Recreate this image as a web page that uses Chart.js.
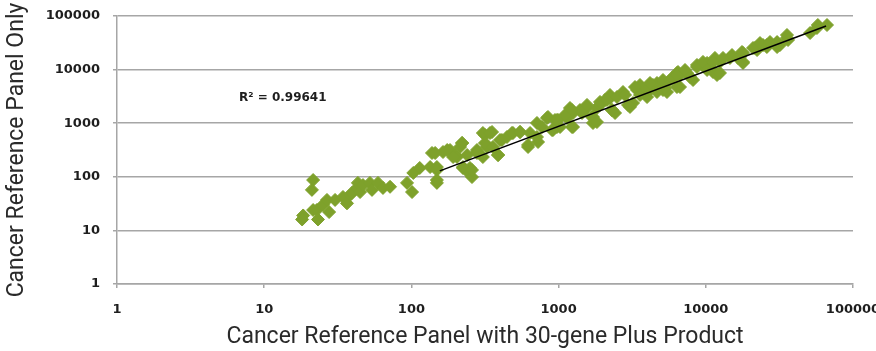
<!DOCTYPE html>
<html>
<head>
<meta charset="utf-8">
<script src="https://cdn.jsdelivr.net/npm/chart.js@4.4.1/dist/chart.umd.min.js"></script>
<style>
  html, body { margin: 0; padding: 0; background: #fff; }
  canvas { display: block; }
</style>
</head>
<body>
<canvas id="chart" width="876" height="351"></canvas>
<script>
// values (log-log scatter)
const xValues = [
  18.4, 18.1, 21.5, 21.1, 22.8, 23.2, 21.5, 25.1, 26.7, 27.6, 30.3, 34.3, 36.5, 38.3, 39.5,
  42.7, 43.3, 44.8, 46.9, 52.3, 54, 59.3, 64.1, 71.6, 93.4, 101, 103, 114, 138, 134, 149, 149,
  164, 183, 198, 204, 214, 221, 224, 250, 242, 258, 279, 279, 306, 316, 326, 353, 388, 400,
  446, 490, 547, 620, 713, 725, 834, 902, 975, 991, 1023, 1140, 1195, 1233, 1253, 1397, 1443,
  1560, 1713, 1713, 1822, 1911, 2066, 2234, 2234, 2306, 2418, 2739, 3055, 3203, 3412, 3573,
  3989, 3989, 4378, 4660, 5120, 5120, 5450, 6475, 6680, 6680, 7450, 8190, 8710, 9570, 9880,
  10200, 11190, 11190, 11540, 11920, 12480, 14590, 17070, 17900, 17900, 21600, 22300, 24500,
  26000, 30500, 30500, 35600, 51100, 56900, 57700, 66600,
  145, 149, 149, 175, 192, 221, 224, 239, 258, 279, 306, 342, 316, 358, 388, 412, 482, 547,
  620, 640, 713, 771, 847, 945, 975, 916, 1105, 1233, 1253, 1443, 1560, 1686, 1822, 1911,
  2133, 2306, 2494, 2825, 2963, 3304, 3573, 3989, 4178, 4660, 5120, 5284, 5710, 5893, 6370,
  6370, 6370, 7226, 7811, 8710, 9570, 10200, 11190, 12480, 13090, 15070, 16540, 17620, 17900,
  20930, 23350, 26000, 27300, 30500, 31900, 35600, 36200
];
const yValues = [
  19, 16, 87, 57, 24, 16, 24, 30, 37, 22, 37, 42, 32, 46, 50,
  62, 77, 52, 70, 77, 57, 77, 62, 65, 77, 52, 118, 146, 278, 152, 77, 152,
  290, 316, 255, 234, 360, 427, 146, 146, 123, 99, 316, 290, 234, 602, 360, 685, 255, 486,
  553, 656, 685, 360, 1009, 446, 1250, 746, 849, 1148, 849, 1250, 1920, 849, 1550, 1760, 1550,
  1920, 1305, 1009, 1920, 2190, 2710, 3360, 2950, 1760, 1550, 3820, 2010, 2380, 4160, 5160,
  3660, 3080, 5160, 5620, 5870, 4160, 3820, 9020, 7930, 4730, 8650, 6400, 11200, 12200, 11200,
  13300, 9840, 9020, 16500, 7930, 13900, 16500, 17200, 20400, 13900, 25300, 23200, 28700,
  28700, 31300, 26400, 38900, 48200, 59700, 67900, 67900,
  278, 134, 87, 316, 234, 427, 152, 255, 134, 278, 656, 656, 427, 360, 255, 486, 656, 685,
  392, 656, 553, 849, 1305, 1148, 1148, 746, 1420, 1760, 849, 1620, 2190, 1305, 1052, 2490,
  2710, 1760, 3080, 3360, 2190, 4730, 3360, 4160, 5620, 3820, 6400, 4540, 6400, 6970, 8650,
  7930, 4730, 9840, 7280, 12200, 13900, 9840, 13900, 8650, 16500, 18700, 16500, 21300, 13300,
  25300, 31300, 26400, 32700, 32700, 28700, 44200, 35700
];
// power trendline end points
const trendX = [156, 65600];
const trendY = [129, 64900];
const rSquaredText = "R\u00b2 = 0.99641";
const tickValuesX = [1, 10, 100, 1000, 10000, 100000];
const tickValuesY = [1, 10, 100, 1000, 10000, 100000];

const green = "rgb(126, 161, 43)";
const gridColor = "rgb(166, 166, 166)";
const textColor = "#1e1e1e";
const tickFont = { family: "DejaVu Sans", size: 13, weight: "bold" };
const titleFont = { family: "Roboto", size: 23 };

const points = xValues.map((x, i) => ({ x, y: yValues[i] }));
const trend = trendX.map((x, i) => ({ x, y: trendY[i] }));

const rSquaredLabel = {
  id: "rSquaredLabel",
  afterDatasetsDraw(chart) {
    const { ctx, scales } = chart;
    ctx.save();
    ctx.font = "bold 12px 'DejaVu Sans'";
    ctx.fillStyle = textColor;
    ctx.textAlign = "left";
    ctx.textBaseline = "middle";
    ctx.fillText(rSquaredText, scales.x.getPixelForValue(6.74), scales.y.getPixelForValue(2950));
    ctx.restore();
  },
};

new Chart(document.getElementById("chart"), {
  type: "scatter",
  data: {
    datasets: [
      {
        type: "line",
        data: trend,
        borderColor: "#000",
        borderWidth: 1.5,
        pointRadius: 0,
        fill: false,
        order: 0,
      },
      {
        data: points,
        pointStyle: "rectRot",
        pointRadius: 6.5,
        backgroundColor: green,
        borderColor: green,
        borderWidth: 1,
        order: 1,
      },
    ],
  },
  options: {
    responsive: false,
    animation: false,
    devicePixelRatio: 1,
    layout: { padding: { top: 16, right: 23, left: 0, bottom: 0 } },
    plugins: {
      legend: { display: false },
      tooltip: { enabled: false },
    },
    scales: {
      x: {
        type: "logarithmic",
        min: 1,
        max: 100000,
        afterBuildTicks: (scale) => {
          scale.ticks = tickValuesX.map((value) => ({ value }));
        },
        afterFit: (scale) => {
          scale.height = 67;
          scale.paddingLeft = 0;
          scale.paddingRight = 0;
        },
        border: { display: true, color: gridColor, width: 1.5 },
        grid: {
          drawOnChartArea: false,
          drawTicks: true,
          tickLength: 4,
          color: gridColor,
          lineWidth: 1.5,
        },
        ticks: {
          color: textColor,
          font: tickFont,
          padding: 14,
          maxRotation: 0,
          autoSkip: false,
          callback: (value) => String(value),
        },
        title: {
          display: true,
          text: "Cancer Reference Panel with 30-gene Plus Product",
          color: "#2a2a2a",
          font: titleFont,
          padding: { top: 0, bottom: 0 },
        },
      },
      y: {
        type: "logarithmic",
        min: 1,
        max: 100000,
        afterBuildTicks: (scale) => {
          scale.ticks = tickValuesY.map((value) => ({ value }));
        },
        afterFit: (scale) => {
          scale.width = 117;
          scale.paddingTop = 0;
          scale.paddingBottom = 0;
        },
        border: { display: true, color: gridColor, width: 1.5 },
        grid: {
          drawTicks: true,
          tickLength: 4,
          color: gridColor,
          lineWidth: 1.5,
        },
        ticks: {
          color: textColor,
          font: tickFont,
          padding: 13,
          autoSkip: false,
          callback: (value) => String(value),
        },
        title: {
          display: true,
          text: "Cancer Reference Panel Only",
          color: "#2a2a2a",
          font: titleFont,
          padding: { top: 3, bottom: 0 },
        },
      },
    },
  },
  plugins: [rSquaredLabel],
});
</script>
</body>
</html>
